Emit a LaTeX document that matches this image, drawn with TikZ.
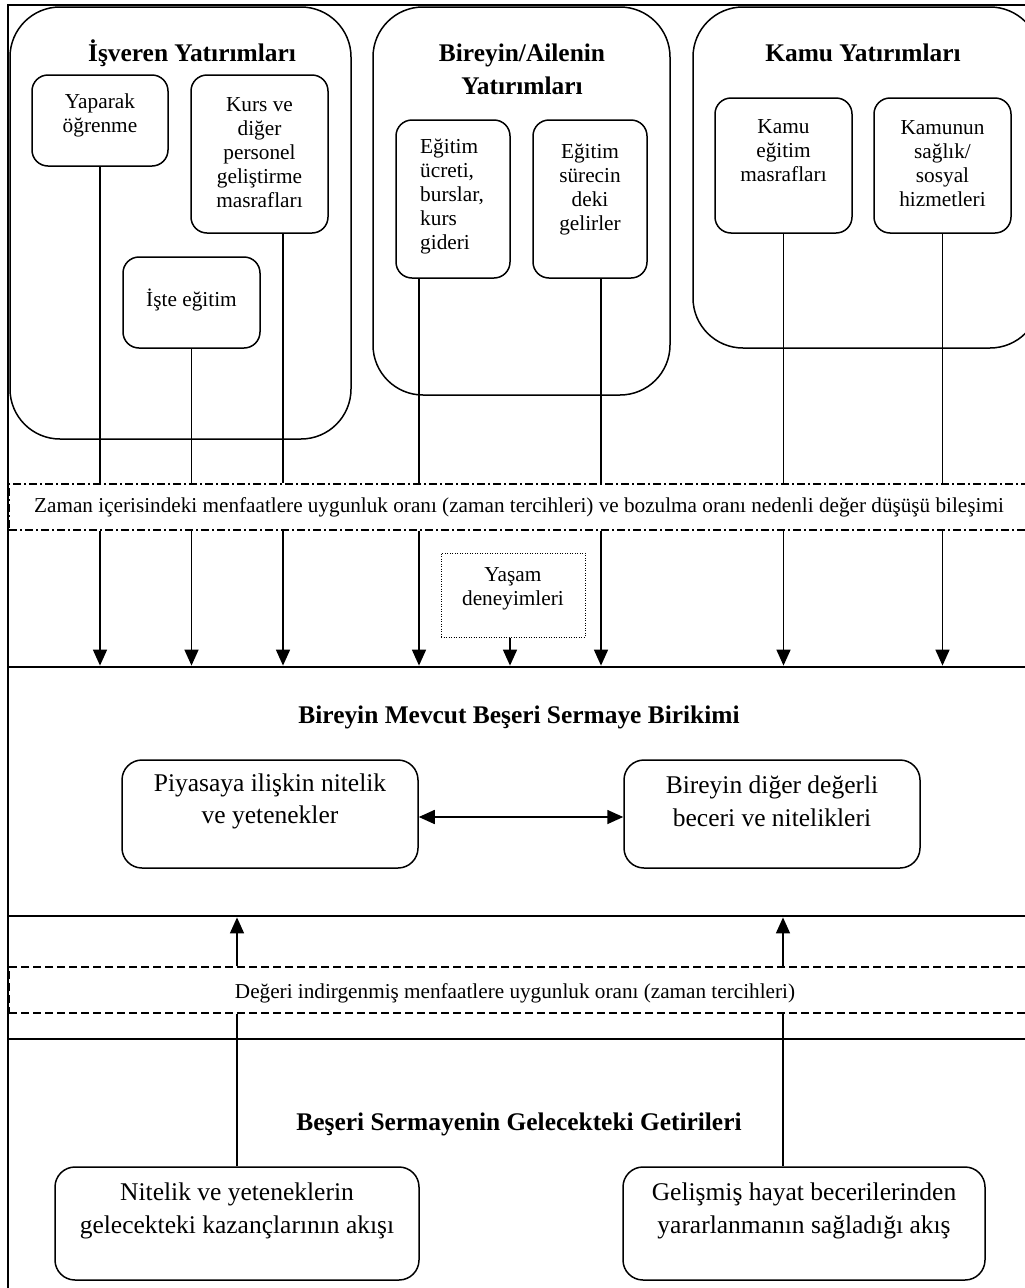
\documentclass[tikz,border=0pt]{standalone}
\usepackage{fontspec}
\setmainfont{Liberation Serif}
\usetikzlibrary{arrows.meta}

\begin{document}
\begin{tikzpicture}[x=1pt,y=-1pt,
  thinline/.style={line width=1.6pt},
  arr/.style={thinline,-{Triangle[length=16pt,width=14pt]}},
  dblarr/.style={thinline,{Triangle[length=16pt,width=14pt]}-{Triangle[length=16pt,width=14pt]}},
  groupbox/.style={draw,line width=1.5pt,rounded corners=50pt,inner sep=0pt},
  itembox/.style={draw,line width=1.5pt,rounded corners=16pt,inner sep=0pt},
  widebox/.style={draw,line width=1.5pt,rounded corners=20pt,inner sep=0pt},
  stage/.style={draw,line width=2.8pt,inner sep=0pt},
  bandA/.style={draw,fill=white,line width=1.3pt,dash pattern=on 8pt off 3pt on 2pt off 3pt,inner sep=0pt},
  bandB/.style={draw,fill=white,line width=1.3pt,dash pattern=on 8pt off 4pt,inner sep=0pt},
  lifebox/.style={draw,line width=1pt,dash pattern=on 1pt off 1.5pt,inner sep=0pt},
  smalltxt/.style={align=center,inner sep=0pt,font=\fontsize{21.3}{24}\selectfont},
  bandtxt/.style={inner sep=0pt,font=\fontsize{21.2}{24}\selectfont},
  bigtxt/.style={align=center,inner sep=0pt,font=\fontsize{25.5}{32.5}\selectfont},
  title/.style={align=center,inner sep=0pt,font=\fontsize{25.4}{33}\selectfont\bfseries}
]
\useasboundingbox (0,0) rectangle (1025,1288);
\clip (0,0) rectangle (1025,1288);

% outer frame (top and left edges)
\draw[line width=2.6pt] (8,1300) -- (8,5) -- (1040,5);

% investment groups
\node[groupbox,minimum width=341pt,minimum height=432pt] (invL) at (180.5,223) {};
\node[groupbox,minimum width=297pt,minimum height=388pt] (invM) at (521.5,201) {};
\node[groupbox,minimum width=347pt,minimum height=341pt] (invR) at (866.5,177.5) {};

\node[title] (tL) at (192,53) {İşveren Yatırımları};
\node[title] (tM) at (522,69) {Bireyin/Ailenin\\Yatırımları};
\node[title] (tR) at (863,53) {Kamu Yatırımları};

% employer items
\node[itembox,minimum width=136pt,minimum height=91pt] (yap) at (100,120.5) {};
\node[smalltxt] (yapT) at (100,115) {Yaparak\\öğrenme};
\node[itembox,minimum width=137pt,minimum height=158pt] (kurs) at (259.5,154) {};
\node[smalltxt] (kursT) at (259.5,152.5) {Kurs ve\\diğer\\personel\\geliştirme\\masrafları};
\node[itembox,minimum width=137pt,minimum height=91pt] (iste) at (191.5,302.5) {};
\node[smalltxt] (isteT) at (191.5,300) {İşte eğitim};

% individual / family items
\node[itembox,minimum width=114pt,minimum height=158pt] (ucret) at (453,199) {};
\node[smalltxt,align=left,anchor=west] (ucretT) at (420,196.5) {Eğitim\\ücreti,\\burslar,\\kurs\\gideri};
\node[itembox,minimum width=114pt,minimum height=158pt] (surec) at (590,199) {};
\node[smalltxt] (surecT) at (590,190) {Eğitim\\sürecin\\deki\\gelirler};

% public items
\node[itembox,minimum width=137pt,minimum height=135pt] (kegt) at (783.5,165.5) {};
\node[smalltxt] (kegtT) at (783.5,151) {Kamu\\eğitim\\masrafları};
\node[itembox,minimum width=137pt,minimum height=135pt] (ksag) at (942.5,165.5) {};
\node[smalltxt] (ksagT) at (942.5,163.5) {Kamunun\\sağlık/\\sosyal\\hizmetleri};

% current stock of human capital
\node[stage,minimum width=1032pt,minimum height=249pt] (stock) at (524,791.5) {};
\node[title] (tS) at (519,717) {Bireyin Mevcut Beşeri Sermaye Birikimi};
\node[widebox,minimum width=296pt,minimum height=108pt] (piy) at (270,814) {};
\node[bigtxt] (piyT) at (270,801.5) {Piyasaya ilişkin nitelik\\ve yetenekler};
\node[widebox,minimum width=296pt,minimum height=108pt] (diger) at (772,814) {};
\node[bigtxt] (digerT) at (772,801.5) {Bireyin diğer değerli\\beceri ve nitelikleri};

% future returns
\node[stage,minimum width=1032pt,minimum height=271pt] (ret) at (524,1174.5) {};
\node[title] (tF) at (519,1124) {Beşeri Sermayenin Gelecekteki Getirileri};
\node[widebox,minimum width=364pt,minimum height=113pt] (nit) at (237,1223.5) {};
\node[bigtxt] (nitT) at (237,1211) {Nitelik ve yeteneklerin\\gelecekteki kazançlarının akışı};
\node[widebox,minimum width=362pt,minimum height=113pt] (gel) at (804,1223.5) {};
\node[bigtxt] (gelT) at (804,1211) {Gelişmiş hayat becerilerinden\\yararlanmanın sağladığı akış};

% discount bands
\node[bandA,minimum width=1031pt,minimum height=46pt] (bandA) at (524.5,507) {};
\node[bandtxt] (bandAT) at (519,507) {Zaman içerisindeki menfaatlere uygunluk oranı (zaman tercihleri) ve bozulma oranı nedenli değer düşüşü bileşimi};
\node[bandB,minimum width=1031pt,minimum height=46pt] (bandB) at (524.5,990) {};
\node[bandtxt] (bandBT) at (515,993) {Değeri indirgenmiş menfaatlere uygunluk oranı (zaman tercihleri)};

% life experience
\node[lifebox,minimum width=144pt,minimum height=84pt] (yasam) at (513,595) {};
\node[smalltxt] (yasamT) at (513,588.5) {Yaşam\\deneyimleri};

% investment flows into the stock
\foreach \src/\dx in {yap/0,kurs/23.5,iste/0,ucret/-34,surec/11,kegt/0,ksag/0}{
  \draw[thinline] ([xshift=\dx pt]\src.south) -- ([xshift=\dx pt]\src.south |- bandA.north);
  \draw[arr] ([xshift=\dx pt]\src.south |- bandA.south) -- ([xshift=\dx pt]\src.south |- stock.north);
}
\draw[arr] ([xshift=-3pt]yasam.south) -- ([xshift=-3pt]yasam.south |- stock.north);

% relation inside the stock
\draw[dblarr] ([yshift=-3pt]piy.east) -- ([yshift=-3pt]diger.west);

% returns feeding back
\foreach \src/\dx in {nit/0,gel/-21}{
  \draw[thinline] ([xshift=\dx pt]\src.north) -- ([xshift=\dx pt]\src.north |- bandB.south);
  \draw[arr] ([xshift=\dx pt]\src.north |- bandB.north) -- ([xshift=\dx pt]\src.north |- stock.south);
}
\end{tikzpicture}
\end{document}
